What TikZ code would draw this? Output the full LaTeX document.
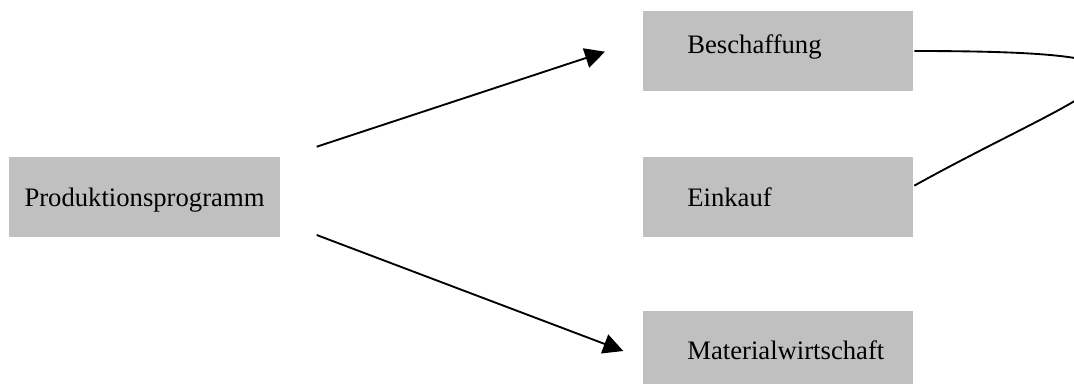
\documentclass[tikz,border=0pt]{standalone}
\usepackage{fontspec}
\setmainfont{Liberation Serif}
\usetikzlibrary{arrows.meta}
\definecolor{boxgray}{HTML}{C0C0C0}

\begin{document}
\begin{tikzpicture}[x=0.75pt,y=-0.75pt,line width=1.4pt,
	box/.style={fill=boxgray,minimum width=203pt,minimum height=59.5pt,text height=13.5pt,text depth=0pt,font=\fontsize{20}{24}\selectfont},
	inset/.style={text width=136pt,inner xsep=33.5pt,align=left},
	pfeil/.style={-{Triangle[length=15pt,width=15pt]}}]
		\useasboundingbox (0,0) rectangle (1074,383);
		\clip (0,0) rectangle (1074,383);
		
		\node[box] (prod) at (144.5,197) {Produktionsprogramm};
		\node[box,inset,text depth=9.75pt] (besch) at (778,51) {Beschaffung};
		\node[box,inset] (eink) at (778,197) {Einkauf};
		\node[box,inset] (mat) at (778,350.7) {Materialwirtschaft};
		
		\coordinate (a1) at (316.7,146.7);
		\coordinate (b1) at (605,51.7);
		\coordinate (a2) at (316.7,235);
		\coordinate (b2) at (623.3,351);
		\draw[pfeil] (a1) -- (b1);
		\draw[pfeil] (a2) -- (b2);
		
		\draw (besch.east) .. controls +(320,0) and +(180,-100) .. ([yshift=8.5pt]eink.east);
\end{tikzpicture}
\end{document}
